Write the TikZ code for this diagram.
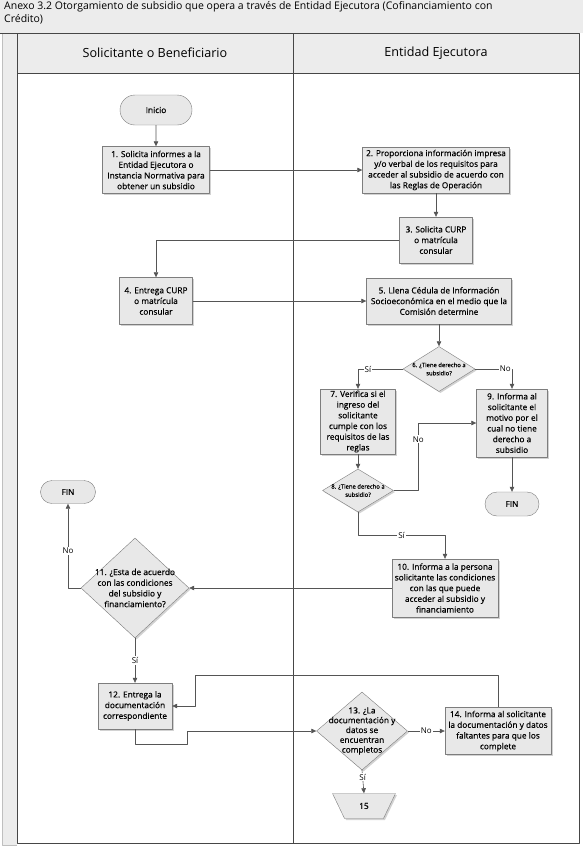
\documentclass[tikz,border=0pt]{standalone}
\usepackage{fontspec}
\setmainfont{Open Sans}
\newfontfamily\boxfam{Open Sans}[FakeBold=0.5]
\usepackage{tikz}
\usetikzlibrary{arrows.meta,shapes.geometric,shapes.misc,shadows}
\definecolor{lanegray}{RGB}{236,236,236}
\definecolor{boxfill}{RGB}{232,232,232}
\definecolor{boxline}{RGB}{125,125,125}
\definecolor{flowline}{RGB}{85,85,85}
\definecolor{frameline}{RGB}{70,70,70}
\newcommand{\titlefnt}{\fontsize{10.5}{13.5}\selectfont}
\newcommand{\lanefnt}{\fontsize{12.6}{14}\selectfont}
\newcommand{\boxfnt}{\boxfam\fontsize{8.3}{10.7}\selectfont}
\newcommand{\smallfnt}{\boxfam\fontsize{5.9}{8.2}\selectfont}
\newcommand{\lblfnt}{\fontsize{8}{9}\selectfont}

\begin{document}
\begin{tikzpicture}[x=1pt,y=-1pt,>={Triangle[length=5pt,width=4.5pt]},line join=round,
 proc/.style={draw=boxline,fill=boxfill,drop shadow={shadow xshift=1.5pt,shadow yshift=-1.5pt,fill=black!35},
  align=center,font=\boxfnt,inner sep=1pt},
 dec/.style={diamond,draw=boxline,fill=boxfill,drop shadow={shadow xshift=1.5pt,shadow yshift=-1.5pt,fill=black!35},
  inner sep=0pt},
 term/.style={rounded rectangle,draw=boxline,fill=boxfill,font=\boxfnt,inner sep=1pt},
 dtxt/.style={align=center,font=\boxfnt,inner sep=0pt},
 flow/.style={->,draw=flowline,semithick},
 lbl/.style={fill=white,inner sep=1pt,font=\lblfnt}]
\useasboundingbox (0,0) rectangle (583,849);
% lanes and frame
\fill[white] (0,0) rectangle (583,849);
\fill[lanegray] (0,0) rectangle (583,33);
\fill[lanegray] (17,33) rectangle (579,73);
\fill[lanegray] (2,33) rectangle (17,845);
\draw[black!25] (2,33) -- (2,845) -- (17,845);
\draw[frameline] (0,33) -- (579,33) -- (579,843) -- (17,843) -- (17,33);
\draw[frameline] (17,73) -- (579,73);
\draw[frameline] (293,33) -- (293,843);
\node[anchor=north west,align=left,font=\titlefnt,inner sep=0pt] (title) at (4,1)
 {Anexo 3.2 Otorgamiento de subsidio que opera a través de Entidad Ejecutora (Cofinanciamiento con\\Crédito)};
\node[font=\lanefnt] (laneA) at (155,53) {Solicitante o Beneficiario};
\node[font=\lanefnt] (laneB) at (436,53) {Entidad Ejecutora};
% activities
\node[term,minimum width=74pt,minimum height=30pt] (ini) at (156,110) {Inicio};
\node[proc,minimum width=107pt,minimum height=47pt] (b1) at (156,170) {1. Solicita informes a la\\Entidad Ejecutora o\\Instancia Normativa para\\obtener un subsidio};
\node[proc,minimum width=147pt,minimum height=46pt] (b2) at (436,170) {2. Proporciona información impresa\\y/o verbal de los requisitos para\\acceder al subsidio de acuerdo con\\las Reglas de Operación};
\node[proc,minimum width=73pt,minimum height=46pt] (b3) at (436,240) {3. Solicita CURP\\o matrícula\\consular};
\node[proc,minimum width=73pt,minimum height=47pt] (b4) at (156,301) {4. Entrega CURP\\o matrícula\\consular};
\node[proc,minimum width=145pt,minimum height=46pt] (b5) at (439,301) {5. Llena Cédula de Información\\Socioeconómica en el medio que la\\Comisión determine};
\node[dec,minimum width=72pt,minimum height=45pt,label={[dtxt,font=\smallfnt]center:{6. ¿Tiene derecho a\\subsidio?}}] (d6) at (439,369) {};
\node[proc,minimum width=75pt,minimum height=65pt] (b7) at (358,421.5) {7. Verifica si el\\ingreso del\\solicitante\\cumple con los\\requisitos de las\\reglas};
\node[dec,minimum width=71pt,minimum height=43pt,label={[dtxt,font=\smallfnt]center:{8. ¿Tiene derecho a\\subsidio?}}] (d8) at (358,490.5) {};
\node[proc,minimum width=71pt,minimum height=68pt] (b9) at (512,423) {9. Informa al\\solicitante el\\motivo por el\\cual no tiene\\derecho a\\subsidio};
\node[term,minimum width=56pt,minimum height=24pt] (fin2) at (512,504) {FIN};
\node[proc,minimum width=106pt,minimum height=58pt] (b10) at (445,588) {10. Informa a la persona\\solicitante las condiciones\\con las que puede\\acceder al subsidio y\\financiamiento};
\node[dec,minimum width=108pt,minimum height=100pt,label={[dtxt]center:{11. ¿Esta de acuerdo\\con las condiciones\\del subsidio y\\financiamiento?}}] (d11) at (135,588) {};
\node[term,minimum width=57pt,minimum height=23pt] (fin1) at (68,492) {FIN};
\node[proc,minimum width=74pt,minimum height=46pt] (b12) at (135,706) {12. Entrega la\\documentación\\correspondiente};
\node[dec,minimum width=91pt,minimum height=78pt,label={[dtxt,font=\boxfam\fontsize{8.3}{9.8}\selectfont]center:{13. ¿La\\documentación y\\datos se\\encuentran\\completos}}] (d13) at (362,731) {};
\node[proc,minimum width=106pt,minimum height=47pt] (b14) at (498,731) {14. Informa al solicitante\\la documentación y datos\\faltantes para que los\\complete};
\node[trapezium,shape border rotate=180,trapezium stretches=true,trapezium angle=64,draw=boxline,fill=boxfill,
 drop shadow={shadow xshift=1.5pt,shadow yshift=-1.5pt,fill=black!35},minimum width=63pt,minimum height=25pt,
 inner sep=0pt,font=\boxfnt] (p15) at (364,806) {15};
% connectors
\draw[flow] (ini) -- (b1);
\draw[flow] (b1.east) -- (b2.west);
\draw[flow] (b2) -- (b3);
\draw[flow] (b3.west) -| (b4.north);
\draw[flow] (b4.east) -- (b5.west);
\draw[flow] (b5) -- (d6);
\draw[flow] (d6.west) -| node[lbl,pos=0.39] {Sí} (b7.north);
\draw[flow] (d6.east) -| node[lbl,pos=0.41] {No} (b9.north);
\draw[flow] (b7) -- (d8);
\draw[flow] (d8.east) -- ++(24.5,0) |- node[lbl,pos=0.38] {No} (b9.west);
\draw[flow] (b9) -- (fin2);
\draw[flow] (d8.south) -- ++(0,23) -| node[lbl,pos=0.25] {Sí} (b10.north);
\draw[flow] (b10.west) -- (d11.east);
\draw[flow] (d11.west) -| node[lbl,pos=0.72] {No} (fin1.south);
\draw[flow] (d11.south) -- node[lbl] {Sí} (b12.north);
\draw[flow] (b12.south) -- ++(0,15) -- ++(52,0) |- (d13.west);
\draw[flow] (d13.east) -- node[lbl] {No} (b14.west);
\draw[flow] (b14.north) |- ++(-303,-32) |- (b12.east);
\draw[flow] (d13.south) -- node[lbl,pos=0.3] {Sí} (p15.north);
\end{tikzpicture}
\end{document}
